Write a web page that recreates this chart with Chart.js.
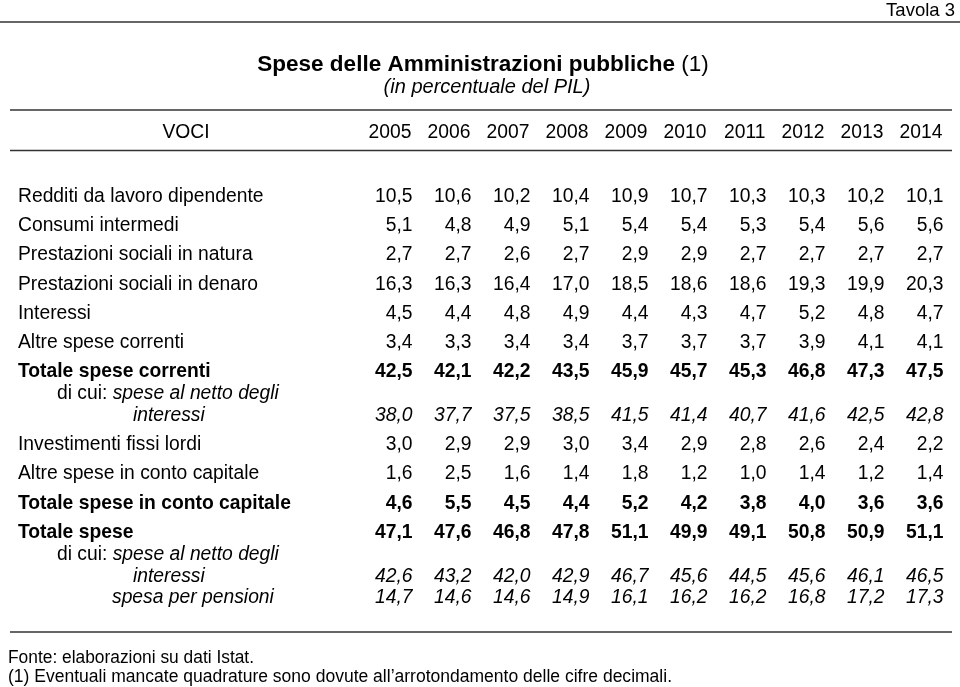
<!DOCTYPE html>
<html>
<head>
<meta charset="utf-8">
<script src="https://cdn.jsdelivr.net/npm/chart.js@4/dist/chart.umd.min.js"></script>
<style>
  body { margin: 0; background: #fff; }
  canvas { display: block; }
</style>
</head>
<body>
<canvas id="root" width="960" height="687"></canvas>
<script>
// anni (colonne)
const years = ['2005', '2006', '2007', '2008', '2009', '2010', '2011', '2012', '2013', '2014'];

// voci (righe)
const rowLabels = [
    'Redditi da lavoro dipendente',
    'Consumi intermedi',
    'Prestazioni sociali in natura',
    'Prestazioni sociali in denaro',
    'Interessi',
    'Altre spese correnti',
    'Totale spese correnti',
    'interessi',
    'Investimenti fissi lordi',
    'Altre spese in conto capitale',
    'Totale spese in conto capitale',
    'Totale spese',
    'interessi',
    'spesa per pensioni'
];

// valori in % del PIL
const redditi = [10.5, 10.6, 10.2, 10.4, 10.9, 10.7, 10.3, 10.3, 10.2, 10.1];
const consumi = [5.1, 4.8, 4.9, 5.1, 5.4, 5.4, 5.3, 5.4, 5.6, 5.6];
const prestNatura = [2.7, 2.7, 2.6, 2.7, 2.9, 2.9, 2.7, 2.7, 2.7, 2.7];
const prestDenaro = [16.3, 16.3, 16.4, 17.0, 18.5, 18.6, 18.6, 19.3, 19.9, 20.3];
const interessi = [4.5, 4.4, 4.8, 4.9, 4.4, 4.3, 4.7, 5.2, 4.8, 4.7];
const altreCorrenti = [3.4, 3.3, 3.4, 3.4, 3.7, 3.7, 3.7, 3.9, 4.1, 4.1];
const totCorrenti = [42.5, 42.1, 42.2, 43.5, 45.9, 45.7, 45.3, 46.8, 47.3, 47.5];
const correntiNettoInt = [38.0, 37.7, 37.5, 38.5, 41.5, 41.4, 40.7, 41.6, 42.5, 42.8];
const investimenti = [3.0, 2.9, 2.9, 3.0, 3.4, 2.9, 2.8, 2.6, 2.4, 2.2];
const altreCapitale = [1.6, 2.5, 1.6, 1.4, 1.8, 1.2, 1.0, 1.4, 1.2, 1.4];
const totCapitale = [4.6, 5.5, 4.5, 4.4, 5.2, 4.2, 3.8, 4.0, 3.6, 3.6];
const totSpese = [47.1, 47.6, 46.8, 47.8, 51.1, 49.9, 49.1, 50.8, 50.9, 51.1];
const speseNettoInt = [42.6, 43.2, 42.0, 42.9, 46.7, 45.6, 44.5, 45.6, 46.1, 46.5];
const pensioni = [14.7, 14.6, 14.6, 14.9, 16.1, 16.2, 16.2, 16.8, 17.2, 17.3];

const rows = [redditi, consumi, prestNatura, prestDenaro, interessi, altreCorrenti, totCorrenti,
    correntiNettoInt, investimenti, altreCapitale, totCapitale, totSpese, speseNettoInt, pensioni];

// layout: posizione delle righe sull'asse y (mezze righe) e stile
const rowSlots = [0, 2, 4, 6, 8, 10, 12, 15, 17, 19, 21, 23, 26, 27.5];
const rowStyle = ['', '', '', '', '', '', 'bold', 'italic', '', '', 'bold', 'bold', 'italic', 'italic'];
const labelX = [18, 18, 18, 18, 18, 18, 18, 133, 18, 18, 18, 18, 133, 112];
const subLines = [{ slot: 13.5, x: 57 }, { slot: 24.5, x: 57 }];

const FONT = '"Liberation Sans", Arial, Helvetica, sans-serif';
const SIZE = 19.3;

const fmt = v => v.toFixed(1).replace('.', ',');

function rule(ctx, x1, x2, y) {
    ctx.save();
    ctx.strokeStyle = '#333';
    ctx.lineWidth = 1.5;
    ctx.beginPath();
    ctx.moveTo(x1, y);
    ctx.lineTo(x2, y);
    ctx.stroke();
    ctx.restore();
}

function fitText(ctx, text, x, y, width) {
    const w = ctx.measureText(text).width;
    ctx.save();
    ctx.translate(x, y);
    ctx.scale(width / w, 1);
    ctx.fillText(text, 0, 0);
    ctx.restore();
}

const tablePlugin = {
    id: 'tableText',
    afterDatasetsDraw(chart) {
        const ctx = chart.ctx;
        const xs = chart.scales.x;
        const ys = chart.scales.y;
        const capMid = SIZE * 0.358;

        ctx.save();
        ctx.fillStyle = '#000';
        ctx.textBaseline = 'alphabetic';

        // intestazione pagina
        ctx.font = '18.5px ' + FONT;
        ctx.textAlign = 'right';
        ctx.fillText('Tavola 3', 955, 16);
        rule(ctx, 0, 960, 22);

        // titolo
        const t1 = 'Spese delle Amministrazioni pubbliche';
        const t2 = ' (1)';
        ctx.textAlign = 'left';
        ctx.font = 'bold 22.5px ' + FONT;
        const w1 = ctx.measureText(t1).width;
        ctx.font = '22.5px ' + FONT;
        const w2 = ctx.measureText(t2).width;
        let tx = 483 - (w1 + w2) / 2;
        ctx.font = 'bold 22.5px ' + FONT;
        ctx.fillText(t1, tx, 71);
        ctx.font = '22.5px ' + FONT;
        ctx.fillText(t2, tx + w1, 71);
        ctx.font = 'italic 20px ' + FONT;
        ctx.textAlign = 'center';
        ctx.fillText('(in percentuale del PIL)', 487, 93);

        // riga intestazione tabella
        rule(ctx, 10, 952, 110);
        ctx.font = SIZE + 'px ' + FONT;
        ctx.fillText('VOCI', 186, 131.5 + capMid);
        ctx.textAlign = 'right';
        years.forEach((yr, i) => {
            ctx.fillText(yr, xs.getPixelForValue(i) + 21, 131.5 + capMid);
        });
        rule(ctx, 10, 952, 150.5);

        // etichette di riga
        ctx.textAlign = 'left';
        rowLabels.forEach((lab, r) => {
            const st = rowStyle[r];
            ctx.font = (st ? st + ' ' : '') + SIZE + 'px ' + FONT;
            ctx.fillText(lab, labelX[r], ys.getPixelForValue(rowSlots[r]) + capMid);
        });
        subLines.forEach(s => {
            const py = ys.getPixelForValue(s.slot) + capMid;
            ctx.font = SIZE + 'px ' + FONT;
            const a = 'di cui: ';
            ctx.fillText(a, s.x, py);
            const aw = ctx.measureText(a).width;
            ctx.font = 'italic ' + SIZE + 'px ' + FONT;
            ctx.fillText('spese al netto degli', s.x + aw, py);
        });

        // valori
        ctx.textAlign = 'right';
        chart.data.datasets.forEach((ds, d) => {
            const meta = chart.getDatasetMeta(d);
            const st = rowStyle[d];
            ctx.font = (st ? st + ' ' : '') + SIZE + 'px ' + FONT;
            meta.data.forEach((el, i) => {
                ctx.fillText(fmt(ds.data[i].v), el.x + 22, el.y + capMid);
            });
        });

        // piede
        rule(ctx, 10, 952, 632);
        ctx.textAlign = 'left';
        ctx.font = '17.5px ' + FONT;
        fitText(ctx, 'Fonte: elaborazioni su dati Istat.', 8, 663, 246);
        fitText(ctx, '(1) Eventuali mancate quadrature sono dovute all\u2019arrotondamento delle cifre decimali.', 8, 682, 664);

        ctx.restore();
    }
};

const ctx = document.getElementById('root').getContext('2d');

const config = {
    type: 'scatter',
    data: {
        labels: years,
        datasets: rows.map((vals, r) => ({
            label: rowLabels[r],
            data: vals.map((v, i) => ({ x: years[i], y: rowSlots[r], v: v })),
            pointRadius: 0,
            showLine: false
        }))
    },
    options: {
        responsive: false,
        animation: false,
        layout: {
            padding: { left: 361, right: 9, top: 195, bottom: 90.5 }
        },
        scales: {
            x: { type: 'category', labels: years, offset: true, display: false },
            y: { type: 'linear', reverse: true, min: 0, max: 27.5, display: false }
        },
        plugins: {
            legend: { display: false },
            title: { display: false },
            tooltip: { enabled: false }
        }
    },
    plugins: [tablePlugin]
};

const myChart = new Chart(ctx, config);
</script>
</body>
</html>
